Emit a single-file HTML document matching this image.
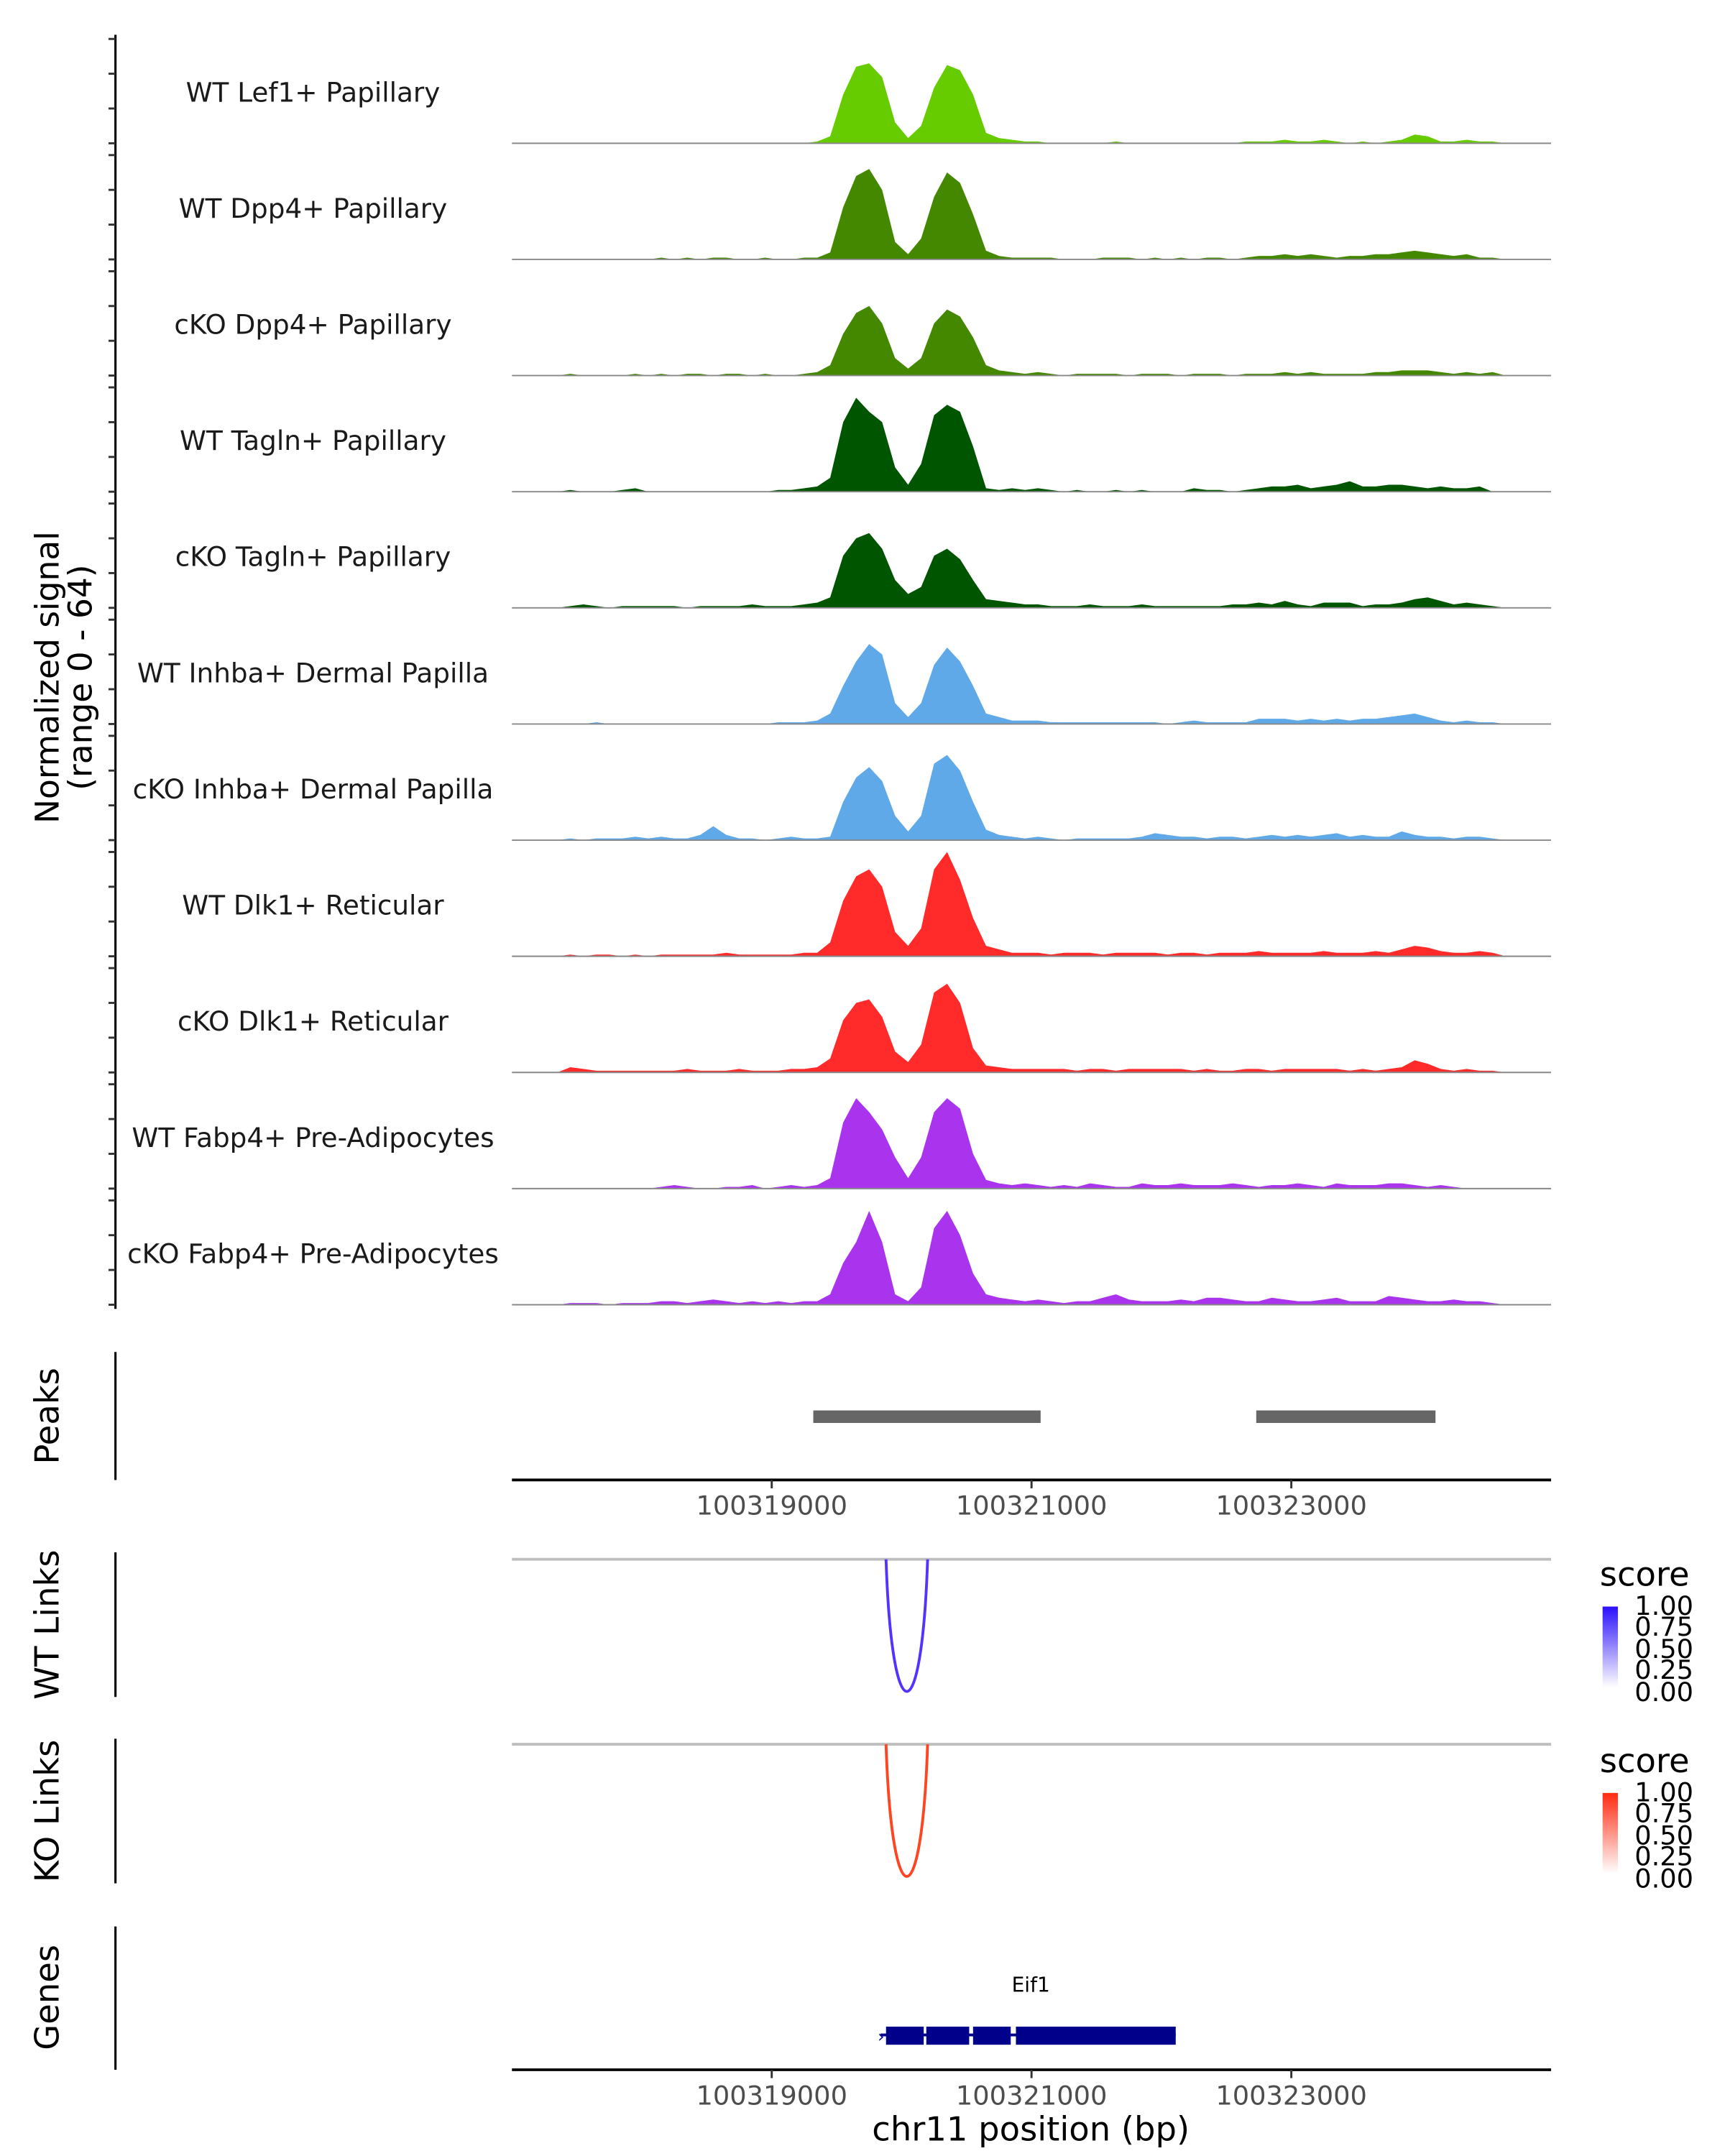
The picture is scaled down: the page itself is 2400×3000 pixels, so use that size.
<!DOCTYPE html>
<html><head><meta charset="utf-8"><style>
html,body{margin:0;padding:0;background:#fff;}
svg{display:block;font-family:"DejaVu Sans","Liberation Sans",sans-serif;}
</style></head><body>
<svg id="chart" width="2400" height="3000" viewBox="0 0 1240 1550" xmlns="http://www.w3.org/2000/svg">
<rect width="1240" height="1550" fill="#fff"/>
<g id="tracks"></g>
<line x1="83" y1="25" x2="83" y2="941" stroke="#000" stroke-width="1.6"/>
<g id="yticks"></g>
<text transform="translate(42,487) rotate(-90)" text-anchor="middle" font-size="23.5" fill="#000">Normalized signal</text>
<text transform="translate(66,487) rotate(-90)" text-anchor="middle" font-size="23.5" fill="#000">(range 0 - 64)</text>

<!-- Peaks -->
<line x1="83" y1="972" x2="83" y2="1064" stroke="#000" stroke-width="1.6"/>
<text transform="translate(42,1018) rotate(-90)" text-anchor="middle" font-size="24">Peaks</text>
<g id="peaks"></g>
<line x1="368" y1="1064" x2="1115" y2="1064" stroke="#000" stroke-width="2"/>
<g id="xticks1"></g>

<!-- WT links -->
<line x1="83" y1="1116" x2="83" y2="1220" stroke="#000" stroke-width="1.6"/>
<text transform="translate(42,1168) rotate(-90)" text-anchor="middle" font-size="24">WT Links</text>
<line x1="368" y1="1121" x2="1115" y2="1121" stroke="#bebebe" stroke-width="2"/>
<g id="wtlinks"></g>

<!-- KO links -->
<line x1="83" y1="1250" x2="83" y2="1354" stroke="#000" stroke-width="1.6"/>
<text transform="translate(42,1302) rotate(-90)" text-anchor="middle" font-size="24">KO Links</text>
<line x1="368" y1="1254" x2="1115" y2="1254" stroke="#bebebe" stroke-width="2"/>
<g id="kolinks"></g>

<!-- legends -->
<defs>
<linearGradient id="gb" x1="0" y1="1" x2="0" y2="0"><stop offset="0" stop-color="#ffffff"/><stop offset="1" stop-color="#2a10ff"/></linearGradient>
<linearGradient id="gr" x1="0" y1="1" x2="0" y2="0"><stop offset="0" stop-color="#ffffff"/><stop offset="1" stop-color="#ff2a10"/></linearGradient>
</defs>
<g>
<text x="1150" y="1140" font-size="24">score</text>
<rect x="1152" y="1155" width="11" height="58" fill="url(#gb)"/>
<g font-size="19" fill="#000"><text x="1175" y="1161">1.00</text><text x="1175" y="1176">0.75</text><text x="1175" y="1192">0.50</text><text x="1175" y="1207">0.25</text><text x="1175" y="1223">0.00</text></g>
</g>
<g>
<text x="1150" y="1274" font-size="24">score</text>
<rect x="1152" y="1289" width="11" height="58" fill="url(#gr)"/>
<g font-size="19" fill="#000"><text x="1175" y="1295">1.00</text><text x="1175" y="1310">0.75</text><text x="1175" y="1326">0.50</text><text x="1175" y="1341">0.25</text><text x="1175" y="1357">0.00</text></g>
</g>

<!-- Genes -->
<line x1="83" y1="1385" x2="83" y2="1488" stroke="#000" stroke-width="1.6"/>
<text transform="translate(42,1436) rotate(-90)" text-anchor="middle" font-size="24">Genes</text>
<text x="741" y="1432" text-anchor="middle" font-size="14.5">Eif1</text>
<g id="gene"></g>
<line x1="368" y1="1488" x2="1115" y2="1488" stroke="#000" stroke-width="2"/>
<g id="xticks2"></g>
<text x="741" y="1539" text-anchor="middle" font-size="24">chr11 position (bp)</text>
</svg>
<script>
const NS="http://www.w3.org/2000/svg";
const xStart=100317000, xEnd=100325000, binSize=100;
const trackNames=["WT Lef1+ Papillary","WT Dpp4+ Papillary","cKO Dpp4+ Papillary","WT Tagln+ Papillary","cKO Tagln+ Papillary","WT Inhba+ Dermal Papilla","cKO Inhba+ Dermal Papilla","WT Dlk1+ Reticular","cKO Dlk1+ Reticular","WT Fabp4+ Pre-Adipocytes","cKO Fabp4+ Pre-Adipocytes"];
const trackColors=["#66cc00","#448800","#448800","#005500","#005500","#5fa9e8","#5fa9e8","#ff2a2a","#ff2a2a","#aa33ee","#aa33ee"];
const sigLef1WT=[0,0,0,0,0,0,0,0,0,0, 0,0,0,0,0,0,0,0,0,0, 0,0,0,1,4,28,44,46,38,12, 3,10,32,45,42,28,6,3,2,1, 1,0,0,0,0,0,1,0,0,0, 0,0,0,0,0,0,1,1,1,2, 1,1,2,1,0,1,0,1,2,5, 4,1,1,2,1,1,0,0,0,0];
const sigDpp4WT=[0,0,0,0,0,0,0,0,0,0, 0,1,0,1,0,1,1,0,0,1, 0,0,1,1,4,30,48,52,40,10, 3,12,36,50,44,26,5,2,1,1, 1,1,0,0,0,1,1,1,0,1, 0,1,0,1,1,0,1,2,2,3, 2,3,2,1,2,2,3,3,4,5, 4,3,2,3,1,1,0,0,0,0];
const sigDpp4KO=[0,0,0,0,1,0,0,0,0,1, 0,1,0,1,1,0,1,1,0,1, 0,0,1,2,6,24,36,40,30,10, 4,10,30,38,34,22,6,3,2,1, 2,1,0,1,1,1,1,0,1,1, 1,0,1,1,1,0,1,1,1,2, 1,2,1,1,1,1,2,2,3,3, 3,2,1,2,1,2,0,0,0,0];
const sigTaglnWT=[0,0,0,0,1,0,0,0,1,2, 0,0,0,0,0,0,0,0,0,0, 1,1,2,3,8,40,54,46,40,14, 4,16,44,50,46,26,2,1,2,1, 2,1,0,1,0,0,1,0,1,0, 0,0,2,1,1,0,1,2,3,3, 4,2,3,4,6,3,3,4,4,3, 2,3,2,2,3,0,0,0,0,0];
const sigTaglnKO=[0,0,0,0,1,2,1,0,1,1, 1,1,1,0,1,1,1,1,2,1, 1,1,2,3,6,30,40,43,34,16, 8,12,30,34,28,16,5,4,3,2, 2,1,1,1,2,1,1,1,2,1, 1,1,1,1,1,2,2,3,2,4, 2,1,3,3,3,1,2,2,3,5, 6,4,2,3,2,1,0,0,0,0];
const sigInhbaWT=[0,0,0,0,0,0,1,0,0,0, 0,0,0,0,0,0,0,0,0,0, 1,1,1,2,6,22,36,46,40,12, 4,12,34,44,36,22,6,4,2,2, 2,1,1,1,1,1,1,1,1,1, 0,1,2,1,1,1,1,3,3,3, 2,3,2,3,2,3,3,4,5,6, 4,2,1,2,1,1,0,0,0,0];
const sigInhbaKO=[0,0,0,0,1,0,1,1,1,2, 1,2,1,1,3,8,3,1,1,0, 1,2,1,1,2,22,36,42,34,14, 5,14,44,49,40,22,6,3,2,1, 2,1,0,1,1,1,1,1,2,4, 3,2,2,1,2,2,1,2,3,2, 3,2,3,4,2,3,2,2,5,3, 2,2,1,2,2,1,0,0,0,0];
const sigDlk1WT=[0,0,0,0,1,0,1,1,0,1, 0,1,1,1,1,1,2,1,1,1, 1,1,2,2,8,32,46,50,40,14, 6,16,50,60,44,22,6,4,2,2, 2,1,2,2,2,1,2,2,2,2, 1,2,2,1,2,2,2,3,2,2, 2,2,3,2,2,2,3,2,4,6, 5,3,2,2,3,2,0,0,0,0];
const sigDlk1KO=[0,0,0,0,3,2,1,1,1,1, 1,1,1,2,1,1,1,2,1,1, 1,2,2,3,8,30,40,42,32,12, 6,16,46,51,40,14,4,3,2,2, 2,2,2,1,2,2,1,2,2,2, 2,2,1,2,1,1,2,2,1,2, 2,2,2,2,1,2,1,2,3,7, 5,2,1,2,1,1,0,0,0,0];
const sigFabp4WT=[0,0,0,0,0,0,0,0,0,0, 0,1,2,1,0,0,1,1,2,0, 1,2,1,2,6,38,52,44,34,18, 6,18,44,52,46,20,5,3,2,3, 2,1,2,1,3,2,1,1,3,2, 2,3,2,2,2,3,2,1,2,2, 3,2,1,3,2,2,2,3,3,2, 1,2,1,0,0,0,0,0,0,0];
const sigFabp4KO=[0,0,0,0,1,1,1,0,1,1, 1,2,2,1,2,3,2,1,2,1, 2,1,2,2,6,24,36,54,36,6, 2,10,44,54,40,18,6,4,3,2, 3,2,1,2,2,4,6,3,2,2, 2,3,2,4,4,3,2,2,4,3, 2,2,3,4,2,2,2,5,4,3, 2,2,3,2,2,1,0,0,0,0];
const signals=[sigLef1WT,sigDpp4WT,sigDpp4KO,sigTaglnWT,sigTaglnKO,sigInhbaWT,sigInhbaKO,sigDlk1WT,sigDlk1KO,sigFabp4WT,sigFabp4KO];
const yMax=64;
const peakStarts=[100319320,100322730];
const peakEnds=[100321070,100324110];
const xTickVals=[100319000,100321000,100323000];
const linkStarts=[100319880];
const linkEnds=[100320200];
const wtLinkScores=[0.8];
const koLinkScores=[0.8];
const exonStarts=[100319880,100320190,100320550,100320880];
const exonEnds=[100320170,100320520,100320840,100322110];

const X0=368,X1=1115;
function xs(p){return X0+(p-xStart)/(xEnd-xStart)*(X1-X0);}
const firstBase=103, trackStep=83.5, trackH=80;
function ys(v,base){return base-v/yMax*trackH;}
function mk(tag,attrs,parent){const e=document.createElementNS(NS,tag);for(const k in attrs)e.setAttribute(k,attrs[k]);parent.appendChild(e);return e;}

const gT=document.getElementById('tracks');
const gY=document.getElementById('yticks');
for(let t=0;t<signals.length;t++){
  const base=firstBase+t*trackStep;
  const g=mk('g',{},gT);
  
  
  const s=signals[t];
  let d='M'+xs(xStart)+','+base;
  for(let i=0;i<s.length;i++){
    const xa=xs(xStart+i*binSize), xb=xs(xStart+(i+1)*binSize);
    d+=' L'+((xa+xb)/2).toFixed(2)+','+ys(s[i],base).toFixed(2);
  }
  d+=' L'+xs(xEnd)+','+base+' Z';
  const area=mk('path',{d:d,fill:trackColors[t]},g);
  
  
  const bl=mk('line',{x1:X0,x2:X1,y1:base,y2:base,stroke:'#888',"stroke-width":1},g);
  
  
  const lb=mk('text',{x:225,y:base-30,"text-anchor":"middle","font-size":"19.3",fill:"#1a1a1a"},g);
  lb.textContent=trackNames[t];
  
  
  for(const v of [0,20,40,60]){
    const tk=mk('line',{x1:78,x2:83,y1:ys(v,base),y2:ys(v,base),stroke:'#333',"stroke-width":1.5},gY);
    
    
  }
}
const gP=document.getElementById('peaks');
for(let i=0;i<peakStarts.length;i++){
  const r=mk('rect',{x:xs(peakStarts[i]),y:1014,width:xs(peakEnds[i])-xs(peakStarts[i]),height:9,fill:'#666'},gP);
  
  
}
function ticks(id,y){
  const g=document.getElementById(id);
  for(const v of xTickVals){
    const l=mk('line',{x1:xs(v),x2:xs(v),y1:y,y2:y+6,stroke:'#333',"stroke-width":1.5},g);
    
    
    const t=mk('text',{x:xs(v),y:y+25,"text-anchor":"middle","font-size":"19",fill:"#4d4d4d"},g);
    t.textContent=v;
    
    
  }
}
ticks('xticks1',1064);ticks('xticks2',1488);
function links(id,base,scores,color){
  const g=document.getElementById(id);
  for(let i=0;i<linkStarts.length;i++){
    const a=xs(linkStarts[i]),b=xs(linkEnds[i]);
    const depth=95/0.8*scores[i];
    const c=base+depth/0.75;
    const p=mk('path',{d:`M${a},${base} C${a+(b-a)*0.14},${c} ${b-(b-a)*0.14},${c} ${b},${base}`,fill:'none',stroke:color,"stroke-width":2},g);
    
    
  }
}
links('wtlinks',1121,wtLinkScores,'#5533ff');
links('kolinks',1254,koLinkScores,'#ff4422');
const gG=document.getElementById('gene');
const ln=mk('line',{x1:xs(exonStarts[0])-4,x2:xs(exonEnds[exonEnds.length-1]),y1:1463,y2:1463,stroke:'#00008b',"stroke-width":2},gG);


for(let i=0;i<exonStarts.length;i++){
  const r=mk('rect',{x:xs(exonStarts[i]),y:1457,width:xs(exonEnds[i])-xs(exonStarts[i]),height:13,fill:'#00008b'},gG);
  
  
}
const ar=mk('text',{x:xs(exonStarts[0])-6,y:1468,"font-size":"12",fill:"#00008b"},gG);
ar.textContent='›';


</script>
</body></html>
